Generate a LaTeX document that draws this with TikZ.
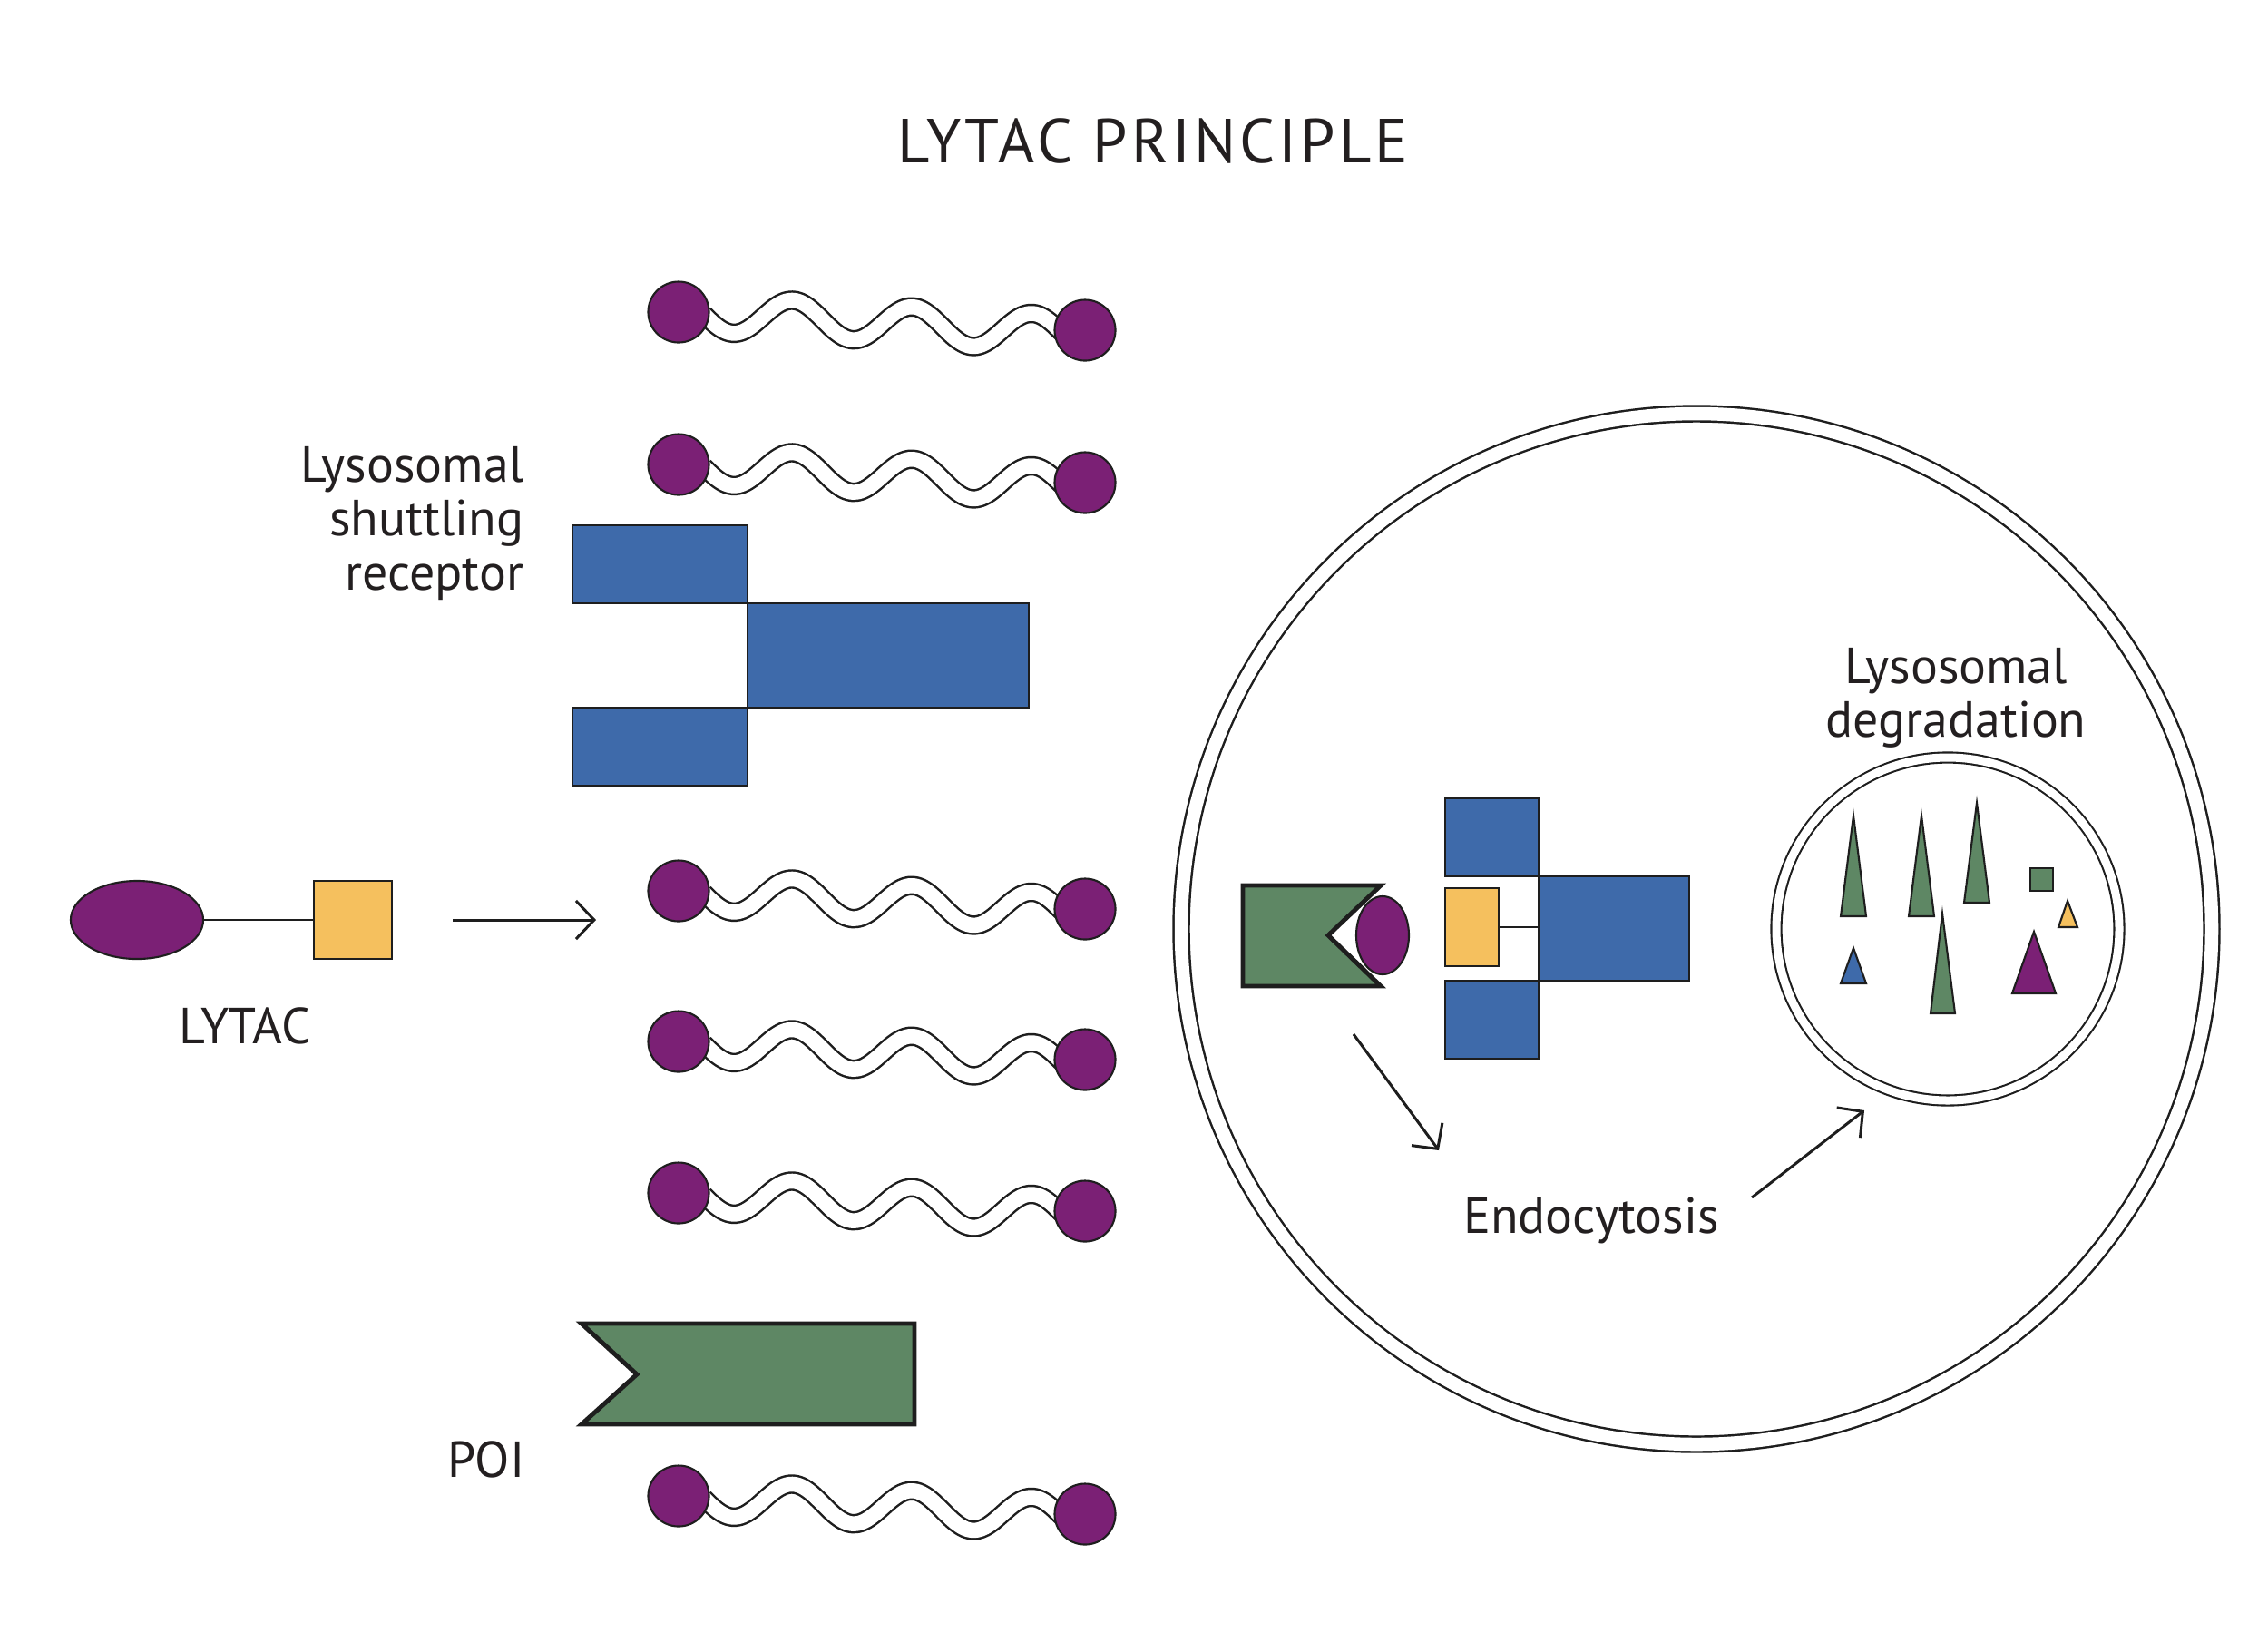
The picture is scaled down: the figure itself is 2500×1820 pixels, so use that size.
\documentclass[tikz,border=0pt]{standalone}
\usepackage{fontspec}
\setmainfont{PT Sans}
\newfontfamily\titlefont[LetterSpace=6]{PT Sans}
\usetikzlibrary{arrows.meta,shapes.geometric}
\definecolor{lpurple}{HTML}{7B2075}
\definecolor{lblue}{HTML}{3E6AAA}
\definecolor{lyellow}{HTML}{F5C05E}
\definecolor{lgreen}{HTML}{5E8764}
\definecolor{ink}{HTML}{1E1E1E}
\definecolor{txt}{HTML}{231F20}
\tikzset{
  outline/.style={draw=ink, line width=0.75pt},
  headball/.style={circle, fill=lpurple, draw=ink, line width=0.6pt, minimum size=0.67cm, inner sep=0pt},
  wave/.style={draw=ink, line width=0.7pt, double=white, double distance=0.165cm},
  bluebox/.style={outline, fill=lblue},
  yelbox/.style={outline, fill=lyellow, line width=0.6pt},
  poi/.style={draw=ink, line width=1.4pt, fill=lgreen, line join=miter},
  tri/.style={draw=ink, line width=0.6pt, line join=miter},
  arr/.style={draw=ink, line width=0.85pt, -{Straight Barb[length=0.2cm, width=0.42cm, line width=0.85pt]}},
  label/.style={text=txt, font=\fontsize{15.9}{16.8}\selectfont, inner sep=0pt},
  lipid/.pic={
    \draw[wave] plot[domain=28:422, samples=90, smooth] (\x,{0.055*(\x-90)+5+20*cos(2.7273*(\x-60))});
    \node[headball] (-l) at (0,0) {};
    \node[headball] (-r) at (448,20) {};
  }
}
\begin{document}
\begin{tikzpicture}[x=0.01cm, y=-0.01cm]
\useasboundingbox (0,0) rectangle (2500,1820);
\fill[white] (0,0) rectangle (2500,1820);

% title
\node[text=txt, inner sep=0pt] (title) at (1271,155) {\titlefont\fontsize{19.5}{22}\selectfont LYTAC PRINCIPLE};

% lipids
\pic (lipA) at (748,344) {lipid};
\pic (lipB) at (748,512) {lipid};
\pic (lipC) at (748,982) {lipid};
\pic (lipD) at (748,1148) {lipid};
\pic (lipE) at (748,1315) {lipid};
\pic (lipF) at (748,1649) {lipid};

% receptor (outside)
\draw[bluebox] (631,579) rectangle (824,665);
\draw[bluebox] (631,780) rectangle (824,866);
\draw[bluebox] (824,665) rectangle (1134,780);
\node[label, align=right, anchor=east] (rlabel) at (578,577) {Lysosomal\\shuttling\\receptor};

% LYTAC
\node[ellipse, fill=lpurple, draw=ink, line width=0.6pt, minimum width=1.46cm, minimum height=0.86cm, inner sep=0pt] (lyEll) at (151,1014) {};
\node[yelbox, minimum width=0.86cm, minimum height=0.86cm, inner sep=0pt] (lySq) at (389,1014) {};
\draw[draw=ink, line width=0.5pt] (lyEll.east) -- (lySq.west);
\node[label] (lytacl) at (270,1131) {LYTAC};
\coordinate (a1s) at (499,1014);
\coordinate (a1e) at (657,1014);
\draw[arr] (a1s) -- (a1e);

% POI
\draw[poi] (641,1459) -- (1008,1459) -- (1008,1570) -- (641,1570) -- (702,1515) -- cycle;
\node[label] (poil) at (536,1609) {POI};

% cell
\draw[draw=ink, line width=0.7pt, double=white, double distance=0.145cm] (1870,1024) circle[radius=568];

% complex in cell
\draw[poi] (1370,976) -- (1522,976) -- (1464,1031) -- (1522,1087) -- (1370,1087) -- cycle;
\node[ellipse, fill=lpurple, draw=ink, line width=0.6pt, minimum width=0.58cm, minimum height=0.86cm, inner sep=0pt] (cEll) at (1524,1031) {};
\draw[bluebox] (1593,880) rectangle (1696,966);
\draw[bluebox] (1593,1081) rectangle (1696,1167);
\draw[bluebox] (1696,966) rectangle (1862,1081);
\node[yelbox, minimum width=0.59cm, minimum height=0.86cm, inner sep=0pt] (cSq) at (1622.5,1022) {};
\draw[draw=ink, line width=0.6pt] (cSq.east) -- (1696,1022);

% lysosome
\draw[draw=ink, line width=0.6pt, double=white, double distance=0.09cm] (2147,1024) circle[radius=189];
\node[label, align=center] (lysl) at (2156,769) {Lysosomal\\degradation};
\draw[tri, fill=lgreen] (2029,1010) -- (2043,899) -- (2057,1010) -- cycle;
\draw[tri, fill=lgreen] (2104,1010) -- (2118,899) -- (2132,1010) -- cycle;
\draw[tri, fill=lgreen] (2165,995) -- (2179,885) -- (2193,995) -- cycle;
\draw[tri, fill=lgreen] (2128,1117) -- (2141,1007) -- (2155,1117) -- cycle;
\draw[tri, fill=lgreen] (2238,957) rectangle (2263,982);
\draw[tri, fill=lyellow] (2269,1022) -- (2279,993) -- (2290,1022) -- cycle;
\draw[tri, fill=lblue] (2029,1084) -- (2043,1045) -- (2057,1084) -- cycle;
\draw[tri, fill=lpurple] (2218,1095) -- (2242,1027) -- (2266,1095) -- cycle;

% endocytosis
\node[label] (endol) at (1754,1345) {Endocytosis};
\coordinate (a2s) at (1492,1140);
\coordinate (a2e) at (1586,1268);
\draw[arr] (a2s) -- (a2e);
\coordinate (a3s) at (1931,1320);
\coordinate (a3e) at (2055,1224);
\draw[arr] (a3s) -- (a3e);
\end{tikzpicture}
\end{document}
